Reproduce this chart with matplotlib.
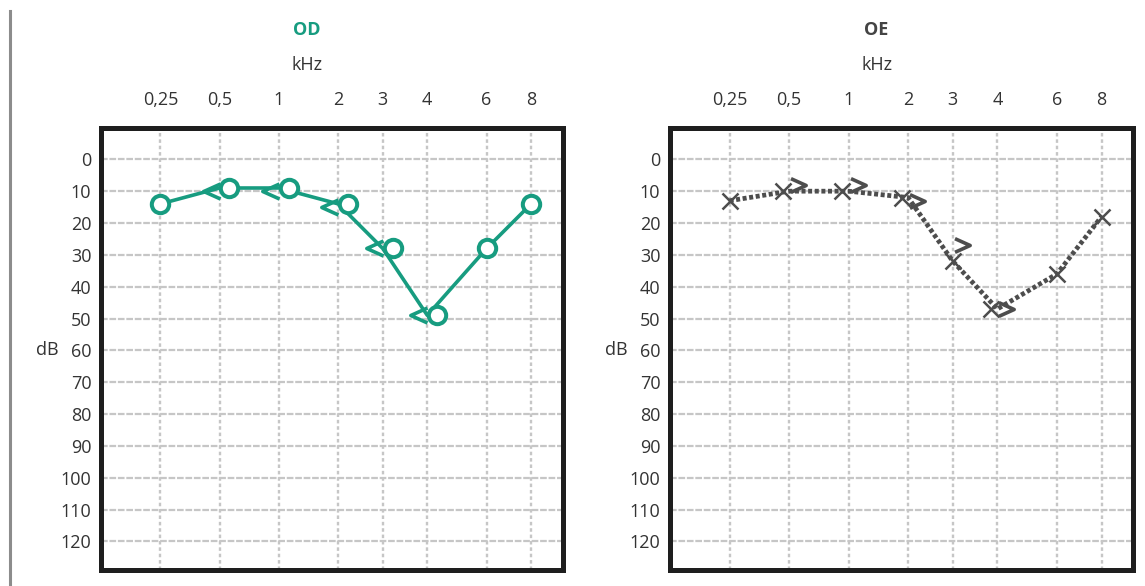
import numpy as np
import matplotlib
matplotlib.use('Agg')
import matplotlib.pyplot as plt
from matplotlib.path import Path
from matplotlib.lines import Line2D
from matplotlib.transforms import offset_copy, blended_transform_factory

plt.rcParams['font.family'] = ['Open Sans', 'DejaVu Sans']

# frequencies (kHz) and their tick labels
freqs = [0.25, 0.5, 1, 2, 3, 4, 6, 8]
freq_labels = ['0,25', '0,5', '1', '2', '3', '4', '6', '8']
db_ticks = list(range(0, 130, 10))

# OD (right ear): air conduction (circles) and bone conduction (<)
od_air = [14, 9, 9, 14, 28, 49, 28, 14]
od_bone_freqs = [0.5, 1, 2, 3, 4]
od_bone = [10, 10, 15, 28, 49]

# OE (left ear): air conduction (X) and bone conduction (>)
oe_air = [13, 10, 10, 12, 32, 47, 36, 18]
oe_bone_freqs = [0.5, 1, 2, 3, 4]
oe_bone = [8, 8, 13, 27, 47]

GREEN = '#179c80'
GREY = '#4d4d4d'
TEXT = '#333333'
GRID = '#c6c6c6'

# audiogram x axis: slots are not a pure log scale (3 and 6 kHz sit closer)
_knots_log = np.log2([2.0 ** -12, 0.25, 0.5, 1, 2, 3, 4, 6, 8, 2.0 ** 13])
_knots_pos = np.array([-10, 0, 1, 2, 3, 3.75, 4.5, 5.5, 6.25, 16.25])


def fwd(f):
    f = np.clip(np.asarray(f, dtype=float), 1e-9, None)
    return np.interp(np.log2(f), _knots_log, _knots_pos)


def inv(p):
    return 2.0 ** np.interp(np.asarray(p, dtype=float), _knots_pos, _knots_log)


caret_left = Path([(0, 0.45), (-1, 0), (0, -0.45)],
                  [Path.MOVETO, Path.LINETO, Path.LINETO])
caret_right = Path([(0.1, 0.45), (1.1, 0), (0.1, -0.45)],
                   [Path.MOVETO, Path.LINETO, Path.LINETO])

fig = plt.figure(figsize=(11.45, 5.86), dpi=100)
ax1 = fig.add_axes([0.0882, 0.0273, 0.4031, 0.7551])
ax2 = fig.add_axes([0.5852, 0.0273, 0.4044, 0.7551])


def setup(ax, title, title_color):
    ax.set_xscale('function', functions=(fwd, inv))
    ax.set_xlim(inv(-1.0), inv(6.78))
    ax.set_ylim(129, -10)
    ax.set_xticks(freqs)
    ax.set_xticklabels(freq_labels)
    ax.xaxis.set_minor_locator(matplotlib.ticker.NullLocator())
    ax.set_yticks(db_ticks)
    ax.xaxis.tick_top()
    ax.tick_params(axis='x', length=0, pad=13, labelsize=13, labelcolor=TEXT)
    ax.tick_params(axis='y', length=0, pad=7, labelsize=13, labelcolor=TEXT)
    for s in ax.spines.values():
        s.set_linewidth(3.6)
        s.set_color('#1e1e1e')
    ax.grid(axis='y', color=GRID, linestyle=(0, (3, 0.8)), linewidth=1.6)
    ax.grid(axis='x', color=GRID, linestyle=(0, (1.5, 1.2)), linewidth=1.7)
    ax.set_axisbelow(True)
    ax.text(0.446, 1.141, 'kHz', transform=ax.transAxes, ha='center',
            va='center', fontsize=13, color=TEXT)
    ax.text(0.446, 1.22, title, transform=ax.transAxes, ha='center',
            va='center', fontsize=13, color=title_color, fontweight='bold')
    tr = blended_transform_factory(ax.transAxes, ax.transData)
    ax.text(-0.117, 60, 'dB', transform=tr, ha='center', va='center',
            fontsize=13, color=TEXT)


setup(ax1, 'OD', GREEN)
setup(ax2, 'OE', '#444444')

# OD
ax1.plot(freqs, od_air, color=GREEN, lw=2.6, zorder=3)
shift_r = offset_copy(ax1.transData, fig=fig, x=7, y=0, units='points')
air_shift = [f in od_bone_freqs for f in freqs]
ax1.plot([f for f, s in zip(freqs, air_shift) if s],
         [v for v, s in zip(od_air, air_shift) if s],
         ls='none', marker='o', ms=12.5, mfc='white', mec=GREEN, mew=2.9,
         transform=shift_r, zorder=4)
ax1.plot([f for f, s in zip(freqs, air_shift) if not s],
         [v for v, s in zip(od_air, air_shift) if not s],
         ls='none', marker='o', ms=12.5, mfc='white', mec=GREEN, mew=2.9,
         zorder=4)
ax1.plot(od_bone_freqs, od_bone, ls='none', marker=caret_left, ms=24,
         mfc='none', mec=GREEN, mew=2.6, zorder=5)

# OE
ax2.plot(freqs, oe_air, color=GREY, lw=3.4, linestyle=(0, (0.85, 0.55)), zorder=3)
shift_l = offset_copy(ax2.transData, fig=fig, x=-4.5, y=0, units='points')
air_shift = [f in oe_bone_freqs and f != 3 for f in freqs]
ax2.plot([f for f, s in zip(freqs, air_shift) if s],
         [v for v, s in zip(oe_air, air_shift) if s],
         ls='none', marker='x', ms=11, mec=GREY, mew=1.8,
         transform=shift_l, zorder=4)
ax2.plot([f for f, s in zip(freqs, air_shift) if not s],
         [v for v, s in zip(oe_air, air_shift) if not s],
         ls='none', marker='x', ms=11, mec=GREY, mew=1.8, zorder=4)
ax2.plot(oe_bone_freqs, oe_bone, ls='none', marker=caret_right, ms=24,
         mfc='none', mec=GREY, mew=2.6, zorder=5)

# grey rule on the far left
fig.add_artist(Line2D([0.0087, 0.0087], [0.0, 0.981], transform=fig.transFigure,
                      color='#8c8c8c', lw=2.2))

fig.savefig('out.png', dpi=100)
